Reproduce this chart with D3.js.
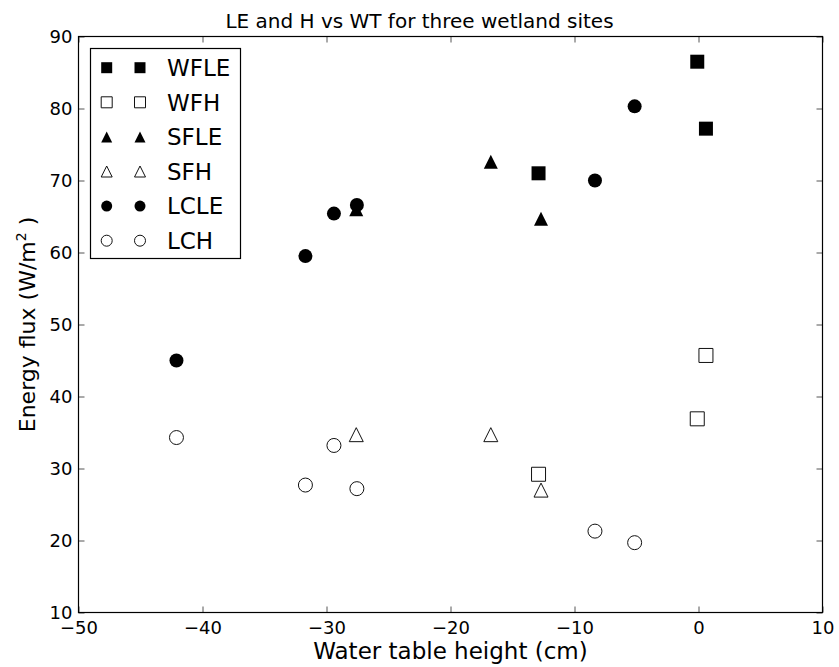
<!DOCTYPE html>
<html>
<head>
<meta charset="utf-8">
<script src="https://cdn.jsdelivr.net/npm/d3@7"></script>
<style>
  html, body { margin: 0; padding: 0; background: #fff; }
  svg { display: block; font-family: "DejaVu Sans", sans-serif; }
</style>
</head>
<body>
<svg id="chart" width="839" height="667"></svg>
<script>
// ---- data ----
const seriesNames = ["WFLE", "WFH", "SFLE", "SFH", "LCLE", "LCH"];
const xWF = [-12.9, -0.1, 0.6];
const WFLE = [71.0, 86.5, 77.2];
const WFH = [29.2, 36.9, 45.7];
const xSF = [-27.6, -16.75, -12.7];
const SFLE = [66.0, 72.6, 64.7];
const SFH = [34.7, 34.7, 27.0];
const xLC = [-42.1, -31.7, -29.4, -27.55, -8.35, -5.15];
const LCLE = [45.0, 59.5, 65.4, 66.6, 70.0, 80.3];
const LCH = [34.3, 27.7, 33.2, 27.2, 21.3, 19.7];
const xTicks = [-50, -40, -30, -20, -10, 0, 10];
const yTicks = [10, 20, 30, 40, 50, 60, 70, 80, 90];

const series = [
  { name: "WFLE", x: xWF, y: WFLE, shape: "square", filled: true },
  { name: "WFH",  x: xWF, y: WFH,  shape: "square", filled: false },
  { name: "SFLE", x: xSF, y: SFLE, shape: "triangle", filled: true },
  { name: "SFH",  x: xSF, y: SFH,  shape: "triangle", filled: false },
  { name: "LCLE", x: xLC, y: LCLE, shape: "circle", filled: true },
  { name: "LCH",  x: xLC, y: LCH,  shape: "circle", filled: false }
];

// ---- layout ----
const L = 78.5, T = 36.5, W = 744, H = 576;
const svg = d3.select("#chart");
const xScale = d3.scaleLinear().domain([-50, 10]).range([L, L + W]);
const yScale = d3.scaleLinear().domain([10, 90]).range([T + H, T]);

function markerPath(shape, s) {
  const h = s / 2;
  if (shape === "square") return `M${-h},${-h}H${h}V${h}H${-h}Z`;
  if (shape === "triangle") return `M0,${-h}L${h},${h}L${-h},${h}Z`;
  const p = d3.path(); p.arc(0, 0, h, 0, 2 * Math.PI); return p.toString();
}

// ---- ticks (inward, all four sides) ----
const tickLen = 6, tickColor = "#555";
const g = svg.append("g");
const axB = d3.axisBottom(xScale).tickValues(xTicks).tickSizeInner(-tickLen).tickSizeOuter(0)
  .tickPadding(9).tickFormat(d => d < 0 ? "\u2212" + Math.abs(d) : d);
const axT = d3.axisTop(xScale).tickValues(xTicks).tickSizeInner(-tickLen).tickSizeOuter(0).tickFormat("");
const axLft = d3.axisLeft(yScale).tickValues(yTicks).tickSizeInner(-tickLen).tickSizeOuter(0).tickPadding(6);
const axR = d3.axisRight(yScale).tickValues(yTicks).tickSizeInner(-tickLen).tickSizeOuter(0).tickFormat("");

function styleAxis(sel) {
  sel.select(".domain").remove();
  sel.selectAll(".tick line").attr("stroke", tickColor).attr("stroke-width", 1);
  sel.selectAll(".tick text").attr("fill", "#000").attr("font-size", 18)
     .attr("font-family", "DejaVu Sans, sans-serif");
}
g.append("g").attr("transform", `translate(0,${T + H})`).call(axB).call(styleAxis);
g.append("g").attr("transform", `translate(0,${T})`).call(axT).call(styleAxis);
g.append("g").attr("transform", `translate(${L},0)`).call(axLft).call(styleAxis)
  .selectAll(".tick text").attr("dy", "0.32em");
g.append("g").attr("transform", `translate(${L + W},0)`).call(axR).call(styleAxis);

// ---- frame ----
svg.append("rect").attr("x", L).attr("y", T).attr("width", W).attr("height", H)
  .attr("fill", "none").attr("stroke", "#000").attr("stroke-width", 1.2);

// ---- points ----
const plotSize = 14;
series.forEach(s => {
  svg.append("g").selectAll("path")
    .data(s.x.map((xv, i) => [xv, s.y[i]]))
    .join("path")
    .attr("d", markerPath(s.shape, plotSize))
    .attr("transform", d => `translate(${xScale(d[0])},${yScale(d[1])})`)
    .attr("fill", s.filled ? "#000" : "#fff")
    .attr("stroke", s.filled ? "none" : "#111")
    .attr("stroke-width", 1);
});

// ---- legend ----
const lg = svg.append("g");
lg.append("rect").attr("x", 90.5).attr("y", 48.5).attr("width", 150).attr("height", 210)
  .attr("fill", "#fff").attr("stroke", "#000").attr("stroke-width", 1.2);
const rowY = i => 67.7 + i * 34.6;
series.forEach((s, i) => {
  [106.7, 140].forEach(mx => {
    lg.append("path").attr("d", markerPath(s.shape, 11))
      .attr("transform", `translate(${mx},${rowY(i)})`)
      .attr("fill", s.filled ? "#000" : "#fff")
      .attr("stroke", s.filled ? "none" : "#111").attr("stroke-width", 1);
  });
  lg.append("text").attr("x", 167).attr("y", rowY(i)).attr("dy", "0.36em")
    .attr("font-size", 23).attr("fill", "#000").text(seriesNames[i]);
});

// ---- titles ----
svg.append("text").attr("x", 419.5).attr("y", 28).attr("text-anchor", "middle")
  .attr("font-size", 20).text("LE and H vs WT for three wetland sites");
svg.append("text").attr("x", L + W / 2).attr("y", 659).attr("text-anchor", "middle")
  .attr("font-size", 23).text("Water table height (cm)");
const yl = svg.append("text").attr("transform", `translate(35,${T + H / 2}) rotate(-90)`)
  .attr("text-anchor", "middle").attr("font-size", 22);
yl.append("tspan").text("Energy flux (W/m");
yl.append("tspan").attr("font-size", 14).attr("dy", -9).text("2");
yl.append("tspan").attr("dy", 9).text(" )");
</script>
</body>
</html>
